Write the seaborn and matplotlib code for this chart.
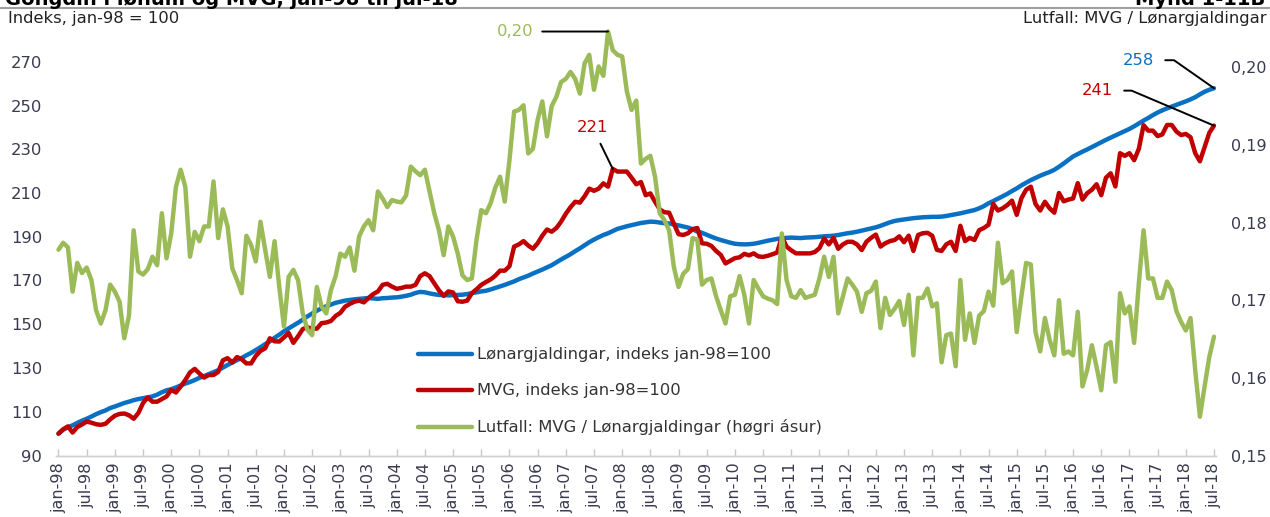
import numpy as np
import pandas as pd
import matplotlib
matplotlib.use("Agg")
import matplotlib.pyplot as plt
import seaborn as sns

# Lønargjaldingar, indeks jan-98=100 (monthly, jan-98 .. jul-18)
lon = [
    100.0, 101.8, 102.9, 103.8, 104.9, 105.9, 106.8, 107.8, 108.9, 109.8, 110.6, 111.7,
    112.4, 113.2, 114.0, 114.6, 115.3, 115.8, 116.2, 116.6, 117.0, 117.8, 118.9, 119.8,
    120.3, 121.1, 122.0, 122.9, 123.6, 124.5, 125.5, 126.3, 127.2, 128.1, 129.0, 130.2,
    131.4, 132.5, 133.6, 134.6, 135.8, 136.9, 138.2, 139.5, 140.9, 142.2, 143.8, 145.2,
    146.8, 148.1, 149.4, 150.7, 152.1, 153.6, 154.9, 156.2, 157.3, 158.2, 159.0, 159.8,
    160.3, 160.8, 161.1, 161.4, 161.6, 161.8, 162.0, 161.8, 161.6, 161.9, 162.0, 162.2,
    162.3, 162.6, 163.0, 163.5, 164.3, 164.8, 164.6, 164.1, 163.7, 163.4, 163.3, 163.2,
    163.3, 163.4, 163.5, 163.8, 164.2, 164.6, 165.0, 165.3, 165.9, 166.6, 167.3, 168.0,
    168.8, 169.6, 170.6, 171.4, 172.2, 173.2, 174.1, 175.0, 176.0, 177.0, 178.3, 179.6,
    180.8, 182.0, 183.4, 184.7, 186.1, 187.5, 188.7, 189.8, 190.8, 191.6, 192.6, 193.6,
    194.2, 194.8, 195.3, 195.8, 196.3, 196.6, 196.9, 196.8, 196.5, 196.2, 196.1, 195.6,
    195.2, 194.7, 194.2, 193.4, 192.4, 191.8, 190.9, 190.0, 189.2, 188.5, 187.9, 187.3,
    186.8, 186.6, 186.5, 186.6, 186.8, 187.2, 187.7, 188.2, 188.6, 189.0, 189.3, 189.5,
    189.6, 189.5, 189.4, 189.6, 189.7, 189.8, 190.0, 190.2, 190.3, 190.5, 190.8, 191.2,
    191.6, 191.9, 192.3, 192.8, 193.3, 193.8, 194.3, 195.0, 195.8, 196.6, 197.2, 197.6,
    197.9, 198.2, 198.5, 198.7, 198.9, 199.0, 199.1, 199.1, 199.2, 199.5, 199.9, 200.3,
    200.7, 201.2, 201.7, 202.2, 203.0, 204.0, 205.3, 206.3, 207.4, 208.5, 209.6, 210.9,
    212.1, 213.5, 214.7, 215.9, 216.9, 217.9, 218.8, 219.6, 220.6, 222.0, 223.5, 225.1,
    226.7, 227.8, 228.9, 229.9, 231.0, 232.1, 233.2, 234.3, 235.3, 236.3, 237.3, 238.3,
    239.3, 240.5, 241.8, 243.1, 244.3, 245.6, 246.8, 247.8, 248.7, 249.5, 250.3, 251.1,
    251.9, 252.8, 253.8, 255.1, 256.3, 257.2, 257.9,
]

# MVG, indeks jan-98=100
mvg = [
    100.0, 102.0, 103.3, 100.5, 103.0, 104.2, 105.5, 105.0, 104.3, 104.0, 104.5, 106.5,
    108.2, 109.0, 109.2, 108.4, 106.8, 109.4, 114.0, 116.5, 114.6, 114.6, 115.8, 117.0,
    120.0, 118.8, 121.5, 124.5, 128.0, 129.6, 127.5, 125.6, 126.8, 126.8, 128.2, 133.5,
    134.5, 132.5, 135.0, 134.0, 132.1, 132.1, 135.5, 137.8, 139.0, 143.6, 142.2, 142.1,
    144.0, 146.0, 141.5, 144.5, 147.8, 148.6, 148.0, 148.0, 150.5, 150.8, 151.5, 153.8,
    155.2, 158.0, 159.3, 160.3, 160.8, 160.0, 162.0, 163.8, 165.0, 168.0, 168.5, 167.2,
    166.2, 166.6, 167.2, 167.2, 168.0, 172.0, 173.3, 172.0, 168.7, 165.5, 163.0, 165.0,
    164.5, 160.5, 160.3, 160.8, 164.2, 166.0, 168.0, 169.3, 170.5, 172.2, 174.5, 174.5,
    176.5, 185.5, 186.5, 188.0, 186.0, 184.5, 187.0, 190.5, 193.3, 192.3, 194.0, 196.9,
    200.5, 203.5, 206.0, 205.6, 208.5, 212.0, 211.0, 212.0, 214.4, 212.9, 221.0, 219.8,
    219.8, 219.8, 217.0, 214.0, 215.0, 209.0, 209.8, 206.0, 202.5, 201.2, 201.0, 196.0,
    191.2, 190.8, 191.6, 193.5, 194.0, 187.0, 186.8, 185.8, 183.5, 181.7, 177.8, 179.0,
    180.2, 180.6, 182.2, 181.5, 182.4, 181.0, 180.8, 181.3, 182.0, 182.8, 190.0, 185.5,
    183.8, 182.4, 182.4, 182.4, 182.4, 183.0, 184.8, 189.2, 186.5, 189.5, 184.5, 186.5,
    187.7, 187.7, 186.5, 183.9, 187.7, 189.5, 191.0, 185.5, 187.0, 188.0, 188.5, 190.2,
    187.5, 190.5, 183.5, 190.8, 191.6, 191.8, 190.5, 184.0, 183.5, 186.5, 187.7, 183.5,
    195.0, 188.0, 189.5, 188.5, 193.0, 194.0, 195.5, 205.0, 202.0, 203.0, 204.5, 206.5,
    200.0, 207.6, 211.5, 212.9, 205.0, 202.0, 206.0, 203.0, 201.0, 210.0, 206.2, 207.0,
    207.5, 214.5, 207.0, 209.9, 211.5, 214.0, 209.0, 217.0, 219.0, 213.0, 228.2, 227.0,
    228.2, 225.0, 230.2, 241.0, 238.5, 238.5, 236.0, 236.8, 241.1, 241.1, 238.1, 236.5,
    237.0, 235.5, 228.2, 224.5, 231.0, 237.5, 240.8,
]

# Lutfall: MVG / Lønargjaldingar (right axis)
lutfall = [
    .1765, .1774, .1768, .1711, .1748, .1735, .1742, .1726, .1687, .1670, .1687, .1720,
    .1711, .1698, .1651, .1680, .1790, .1737, .1733, .1740, .1756, .1745, .1812, .1754,
    .1786, .1846, .1868, .1846, .1756, .1788, .1776, .1795, .1795, .1853, .1780, .1817,
    .1795, .1741, .1726, .1709, .1783, .1771, .1750, .1801, .1765, .1730, .1776, .1717,
    .1666, .1730, .1739, .1726, .1683, .1662, .1655, .1717, .1692, .1683, .1713, .1731,
    .1760, .1756, .1768, .1738, .1782, .1795, .1803, .1790, .1840, .1831, .1820, .1829,
    .1827, .1826, .1835, .1872, .1866, .1861, .1868, .1840, .1812, .1790, .1758, .1795,
    .1782, .1760, .1732, .1726, .1728, .1778, .1816, .1812, .1825, .1845, .1859, .1827,
    .1880, .1943, .1945, .1951, .1889, .1895, .1932, .1956, .1911, .1950, .1962, .1981,
    .1985, .1994, .1985, .1966, .2005, .2016, .1971, .2001, .1989, .2046, .2022, .2016,
    .2014, .1969, .1945, .1957, .1876, .1882, .1886, .1859, .1812, .1803, .1790, .1743,
    .1717, .1734, .1740, .1780, .1778, .1720, .1726, .1728, .1705, .1687, .1670, .1705,
    .1707, .1731, .1707, .1670, .1726, .1715, .1705, .1702, .1700, .1695, .1786, .1726,
    .1705, .1703, .1713, .1703, .1705, .1707, .1728, .1756, .1730, .1756, .1683, .1705,
    .1728, .1720, .1711, .1685, .1709, .1712, .1724, .1664, .1703, .1681, .1689, .1699,
    .1668, .1707, .1629, .1703, .1703, .1715, .1692, .1696, .1620, .1655, .1657, .1615,
    .1726, .1649, .1683, .1645, .1680, .1686, .1711, .1693, .1774, .1722, .1726, .1737,
    .1659, .1705, .1748, .1746, .1659, .1634, .1677, .1649, .1629, .1700, .1631, .1634,
    .1629, .1685, .1589, .1610, .1642, .1614, .1584, .1642, .1646, .1595, .1709, .1683,
    .1692, .1645, .1722, .1790, .1728, .1728, .1703, .1703, .1724, .1713, .1686, .1672,
    .1661, .1677, .1610, .1550, .1589, .1627, .1653,
]

tick_years = list(range(1998, 2019))
tick_months = ["jan", "jul"]
tick_labels = [f"{m}-{y % 100:02d}" for y in tick_years for m in tick_months]

left_ticks = [90, 110, 130, 150, 170, 190, 210, 230, 250, 270]
right_ticks = [0.15, 0.16, 0.17, 0.18, 0.19, 0.20]

series_names = [
    "Lønargjaldingar, indeks jan-98=100",
    "MVG, indeks jan-98=100",
    "Lutfall: MVG / Lønargjaldingar (høgri ásur)",
]

BLUE = "#0a70c4"
RED = "#c00000"
GREEN = "#9bbb59"
TICKCOL = "#3a3a50"

sns.set_theme(style="white")
plt.rcParams["font.family"] = ["DejaVu Sans"]

n = len(lon)
df = pd.DataFrame({"m": np.arange(n), "lon": lon, "mvg": mvg, "lutfall": lutfall})

W, H = 1270, 517
fig = plt.figure(figsize=(W / 100, H / 100), dpi=100)
ax = fig.add_axes([56.15 / W, 61.5 / H, 1160.2 / W, 435.5 / H])

sns.lineplot(data=df, x="m", y="lon", ax=ax, color=BLUE, lw=3.2, legend=False)
sns.lineplot(data=df, x="m", y="mvg", ax=ax, color=RED, lw=3.2, legend=False)
ax2 = ax.twinx()
sns.lineplot(data=df, x="m", y="lutfall", ax=ax2, color=GREEN, lw=3.2, legend=False)

ax.set_xlim(-0.5, n - 0.5)
ax.set_ylim(90, 90 + 435.5 / 2.1875)
ax2.set_ylim(0.15, 0.15 + 435.5 / 7765)

for a in (ax, ax2):
    a.set_xlabel("")
    a.set_ylabel("")
    for s in ("top", "left", "right"):
        a.spines[s].set_visible(False)
    a.spines["bottom"].set_color("#d0d0d0")
    a.spines["bottom"].set_linewidth(1.0)
    a.grid(False)

ax.set_xticks(np.arange(0, n, 6))
ax.set_xticklabels(tick_labels, rotation=90, fontsize=11.5, color=TICKCOL)
ax.tick_params(axis="x", direction="in", length=5, width=1, color="#c8c8c8",
               bottom=True, pad=5)
ax.set_yticks(left_ticks)
ax.set_yticklabels([str(v) for v in left_ticks], fontsize=11.8, color=TICKCOL)
ax.tick_params(axis="y", length=0, pad=10)
ax2.set_yticks(right_ticks)
ax2.set_yticklabels([f"{v:.2f}".replace(".", ",") for v in right_ticks],
                    fontsize=11.5, color=TICKCOL)
ax2.tick_params(axis="y", length=0, pad=10.5)

# Legend
handles = [plt.Line2D([], [], color=c, lw=3.2) for c in (BLUE, RED, GREEN)]
fig.legend(handles, series_names, loc="upper left",
           bbox_to_anchor=(418 / W, 1 - 347.5 / H), bbox_transform=fig.transFigure,
           frameon=False, fontsize=11.8, handlelength=3.3, handletextpad=0.3,
           labelspacing=1.28, borderpad=0, borderaxespad=0, labelcolor="#333333")

# Annotations
ig = int(np.argmax(lutfall))
ax2.annotate("0,20", xy=(ig, lutfall[ig]), xytext=(-93, 0), textcoords="offset pixels",
             ha="center", va="center", color=GREEN, fontsize=11.8,
             arrowprops=dict(arrowstyle="-", color="black", lw=1.4, shrinkA=4, shrinkB=0))
ir = int(np.argmax(mvg[:200]))
ax.annotate("221", xy=(ir, mvg[ir]), xytext=(-20, 41), textcoords="offset pixels",
            ha="center", va="center", color=RED, fontsize=11.8,
            arrowprops=dict(arrowstyle="-", color="black", lw=1.4, shrinkA=4, shrinkB=0))
ax.annotate("258", xy=(n - 1, lon[-1]), xytext=(-76, 28), textcoords="offset pixels",
            ha="center", va="center", color=BLUE, fontsize=11.8,
            arrowprops=dict(arrowstyle="-", color="black", lw=1.4, shrinkA=6, shrinkB=0,
                            connectionstyle="angle,angleA=0,angleB=145,rad=0"))
ax.annotate("241", xy=(n - 1, mvg[-1]), xytext=(-117, 35), textcoords="offset pixels",
            ha="center", va="center", color=RED, fontsize=11.8,
            arrowprops=dict(arrowstyle="-", color="black", lw=1.4, shrinkA=6, shrinkB=0,
                            connectionstyle="angle,angleA=0,angleB=157,rad=0"))

# Header (partly cut off at the top, as in the source)
fig.text(5 / W, 1 - 5.0 / H, "Gongdin í lønum og MVG, jan-98 til jul-18",
         ha="left", va="baseline", fontsize=14, fontweight="bold", color="black")
fig.text(1265 / W, 1 - 5.0 / H, "Mynd 1-11B", ha="right", va="baseline",
         fontsize=14, fontweight="bold", color="black")
fig.add_artist(plt.Line2D([0, 1], [1 - 8.0 / H, 1 - 8.0 / H], transform=fig.transFigure,
                          color="#a0a0a0", lw=1.5))
fig.text(8 / W, 1 - 23.3 / H, "Indeks, jan-98 = 100", ha="left", va="baseline",
         fontsize=11.8, color="#222222")
fig.text(1267 / W, 1 - 23.3 / H, "Lutfall: MVG / Lønargjaldingar", ha="right",
         va="baseline", fontsize=11.8, color="#222222")

fig.savefig("out.png", dpi=100)
